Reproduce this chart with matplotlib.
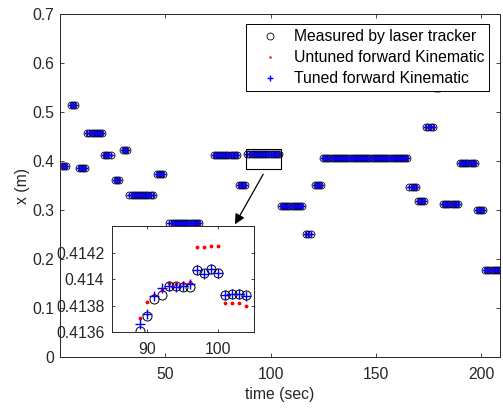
import numpy as np
import matplotlib
matplotlib.use("Agg")
from matplotlib import pyplot as plt
from matplotlib.patches import Rectangle

plt.rcParams["font.family"] = ["Liberation Sans", "DejaVu Sans"]
FS = 11.3
plt.rcParams["font.size"] = FS

# hold segments of the x coordinate (start time, end time, level)
seg_start = [1, 5, 9, 13, 21, 26, 30, 33, 46, 52, 73, 85, 105, 117, 121, 125, 166, 170, 174, 178, 182, 190, 198, 202]
seg_end = [3, 7, 12, 20, 24, 28, 32, 44, 49, 66, 84, 88, 115, 119, 124, 165, 169, 173, 177, 180, 189, 197, 201, 209]
seg_level = [0.389, 0.515, 0.386, 0.458, 0.413, 0.361, 0.422, 0.331, 0.373, 0.273, 0.412, 0.351,
             0.3075, 0.251, 0.352, 0.406, 0.346, 0.319, 0.469, 0.549, 0.313, 0.3965, 0.299, 0.177]

# zoomed segment (shown in the inset)
zoom_t = [89, 90, 91, 92, 93, 94, 95, 96, 97, 98, 99, 100, 101, 102, 103, 104]
zoom_laser = [0.41361, 0.41372, 0.41385, 0.41388, 0.41395, 0.41395, 0.41394, 0.41394,
              0.41407, 0.41405, 0.41408, 0.41405, 0.41388, 0.41389, 0.41389, 0.41388]
zoom_untuned = [0.41371, 0.41383, 0.41388, 0.41392, 0.41397, 0.41396, 0.41397, 0.41398,
                0.41424, 0.41424, 0.41425, 0.41425, 0.41382, 0.41382, 0.41382, 0.41380]
zoom_tuned = [0.41366, 0.41374, 0.41387, 0.41393, 0.41395, 0.41394, 0.41395, 0.41396,
              0.41407, 0.41404, 0.41408, 0.41405, 0.41388, 0.41389, 0.41389, 0.41387]

# build the full series
t = list(zoom_t)
laser = list(zoom_laser)
untuned = list(zoom_untuned)
tuned = list(zoom_tuned)
for s, e, v in zip(seg_start, seg_end, seg_level):
    for ti in range(s, e + 1):
        t.append(ti)
        laser.append(v)
        untuned.append(v)
        tuned.append(v)
order = np.argsort(t)
t = np.array(t)[order]
laser = np.array(laser)[order]
untuned = np.array(untuned)[order]
tuned = np.array(tuned)[order]

W, H = 503, 408
fig = plt.figure(figsize=(W / 100, H / 100), dpi=100)
dark = "#262626"

ax = fig.add_axes([60 / W, (H - 357) / H, 440 / W, 343 / H])
ax.plot(t, laser, "o", mfc="none", mec="k", ms=5, mew=0.6, label="Measured by laser tracker")
ax.plot(t, untuned, ".", color="r", ms=1.5, label="Untuned forward Kinematic")
ax.plot(t, tuned, "+", color="b", ms=5, mew=1.0, label="Tuned forward Kinematic")
ax.set_xlim(0, 209)
ax.set_ylim(0, 0.7)
ax.set_xticks([50, 100, 150, 200])
ax.set_yticks(np.arange(0, 0.71, 0.1))
ax.set_yticklabels(["0", "0.1", "0.2", "0.3", "0.4", "0.5", "0.6", "0.7"])
ax.tick_params(direction="in", top=True, right=True, length=3.2, width=0.6, colors=dark, labelsize=FS)
ax.tick_params(axis="x", pad=7)
ax.tick_params(axis="y", pad=4)
for sp in ax.spines.values():
    sp.set_color(dark)
    sp.set_linewidth(0.7)
ax.set_xlabel("time (sec)", fontsize=FS, color=dark, labelpad=4)
ax.set_ylabel("x (m)", fontsize=FS, color=dark, labelpad=2)

leg = ax.legend(loc="upper right", bbox_to_anchor=(0.9757, 0.970), borderaxespad=0,
                fancybox=False, edgecolor="k", framealpha=1, fontsize=FS,
                handlelength=2.46, handletextpad=0.3, labelspacing=0.39, borderpad=0.3,
                numpoints=1)
leg.get_frame().set_linewidth(0.7)

# box around the zoomed part
ax.add_patch(Rectangle((88.3, 0.384), 16.5, 0.0405, fill=False, ec="k", lw=0.8, zorder=5))
ax.annotate("", xy=(83.1, 0.2708), xytext=(96.5, 0.3729),
            arrowprops=dict(arrowstyle="-|>", color="k", lw=0.9, mutation_scale=15, shrinkA=0, shrinkB=0))

# inset
axi = fig.add_axes([112 / W, (H - 332.3) / H, 141.5 / W, 106.3 / H])
axi.plot(zoom_t, zoom_laser, "o", mfc="none", mec="k", ms=6.5, mew=0.7)
axi.plot(zoom_t, zoom_untuned, ".", color="r", ms=3.5)
axi.plot(zoom_t, zoom_tuned, "+", color="b", ms=7, mew=1.0)
axi.set_xlim(85, 105)
axi.set_ylim(0.4136, 0.4144)
axi.set_xticks([90, 100])
axi.set_yticks([0.4136, 0.4138, 0.414, 0.4142])
axi.set_yticklabels(["0.4136", "0.4138", "0.414", "0.4142"])
axi.tick_params(direction="in", top=True, right=True, length=2, width=0.6, colors=dark, labelsize=FS)
axi.tick_params(axis="x", pad=7)
axi.tick_params(axis="y", pad=5.5)
for sp in axi.spines.values():
    sp.set_color(dark)
    sp.set_linewidth(0.7)

fig.savefig("out.png", dpi=100)
